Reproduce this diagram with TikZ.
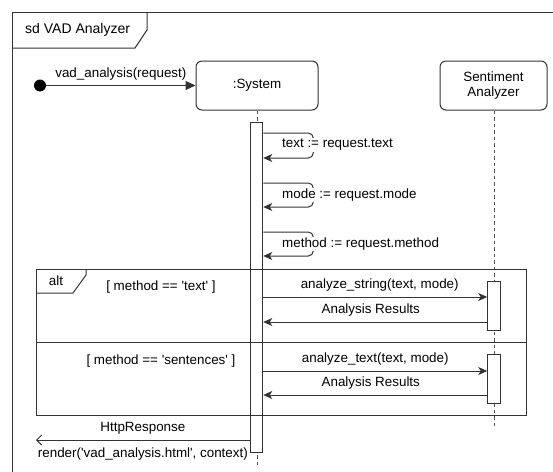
\documentclass[tikz,border=0pt]{standalone}
\usepackage{fontspec}
\setmainfont{Liberation Sans}
\usetikzlibrary{arrows.meta, positioning, calc}
\definecolor{sqline}{HTML}{333333}
\definecolor{sqdash}{HTML}{555555}
\newcommand{\sq}{\textquotesingle}

\begin{document}
\begin{tikzpicture}[x=1pt, y=-1pt,
  every node/.style={font=\fontsize{13.4}{15.5}\selectfont, text=black, inner sep=0pt},
  lifebox/.style={rectangle, rounded corners=6pt, draw=sqline, line width=1pt, fill=white, minimum height=49pt, align=center},
  lifeline/.style={draw=sqdash, line width=1pt, dash pattern=on 3.5pt off 3pt},
  actbar/.style={rectangle, draw=sqline, line width=1pt, fill=white, minimum width=12.5pt},
  startdot/.style={circle, fill=black, minimum size=12pt},
  found/.style={draw=sqline, line width=1pt, -{Triangle[length=10pt, width=9pt]}},
  call/.style={draw=sqline, line width=1pt, -{Stealth[length=9pt, width=8pt, inset=2.5pt]}},
  reply/.style={draw=sqline, line width=1pt, -{Straight Barb[length=5pt, width=10pt]}},
  framebox/.style={draw=sqline, line width=1pt},
  guard/.style={font=\fontsize{13.4}{15.5}\selectfont},
]
\useasboundingbox (0,0) rectangle (553,471);
\clip (0,0) rectangle (553,471);

% Outer frame
\draw[framebox] (12,12) rectangle (600,520);
\draw[framebox] (12,48) -- (135,48) -- (147,30) -- (147,12);
\node[anchor=west, font=\fontsize{14}{16}\selectfont] (title) at (25,30) {sd VAD Analyzer};

% Participants
\node[lifebox, minimum width=122pt] (system) at (257,85.5) {:System};
\node[lifebox, minimum width=107pt] (senti) at (493.5,85.5) {Sentiment\\Analyzer};

% Lifelines
\coordinate (sysend) at (257,466);
\coordinate (sentiend) at (494,428);
\draw[lifeline] (system.south) -- (sysend);
\draw[lifeline] (senti.south -| sentiend) -- (sentiend);

% Activations
\node[actbar, minimum height=330pt] (sysbar) at (256.5,287) {};
\node[actbar, minimum height=49pt] (sa1) at (494,305.5) {};
\node[actbar, minimum height=49pt] (sa2) at (494,378.5) {};

% Found message
\node[startdot] (start) at (40,85.5) {};
\draw[found] (start) -- (system) node[midway, above=5pt] {vad\_analysis(request)};

% Self messages
\draw[call, rounded corners=5pt] (sysbar.east |- 0,133) -- ++(50,0) -- ++(0,25) -- (sysbar.east |- 0,158);
\node[anchor=west, fill=white, inner sep=1pt] (self1) at (281,145) {text := request.text};
\draw[call, rounded corners=5pt] (sysbar.east |- 0,183) -- ++(50,0) -- ++(0,24) -- (sysbar.east |- 0,207);
\node[anchor=west, fill=white, inner sep=1pt] (self2) at (281,195) {mode := request.mode};
\draw[call, rounded corners=5pt] (sysbar.east |- 0,232) -- ++(50,0) -- ++(0,24) -- (sysbar.east |- 0,256);
\node[anchor=west, fill=white, inner sep=1pt] (self3) at (281,244) {method := request.method};

% alt fragment
\draw[framebox] (36,269) rectangle (526,415);
\draw[framebox] (36,342) -- (526,342);
\draw[framebox] (36,293) -- (73,293) -- (86,275) -- (86,269);
\node (alt) at (56,281) {alt};
\node[guard] (g1) at (161,287) {[ method == \sq text\sq\ ]};
\node[guard] (g2) at (161,361) {[ method == \sq sentences\sq\ ]};

% Calls to the analyzer
\draw[call] (sysbar.east |- 0,297) -- (sa1.west |- 0,297) node[pos=0.52, above=5pt] {analyze\_string(text, mode)};
\draw[call] (sa1.west |- 0,322) -- (sysbar.east |- 0,322) node[pos=0.52, above=5pt] {Analysis Results};
\draw[call] (sysbar.east |- 0,371) -- (sa2.west |- 0,371) node[pos=0.5, above=5pt] {analyze\_text(text, mode)};
\draw[call] (sa2.west |- 0,395) -- (sysbar.east |- 0,395) node[pos=0.52, above=5pt] {Analysis Results};

% Response
\coordinate (resp) at (36,440);
\draw[reply] (sysbar.west |- resp) -- (resp)
  node[midway, above=5pt] {HttpResponse}
  node[midway, below=7pt] {render(\sq vad\_analysis.html\sq, context)};

\end{tikzpicture}
\end{document}
